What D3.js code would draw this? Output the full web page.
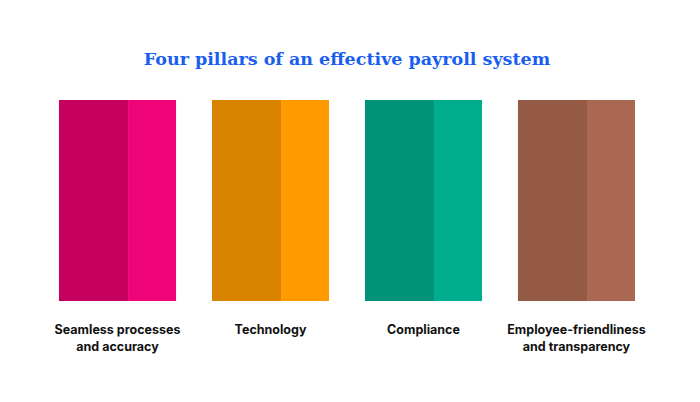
<!DOCTYPE html>
<html><head><meta charset="utf-8">
<script src="https://cdn.jsdelivr.net/npm/d3@7"></script>
<style>body{margin:0;background:#fff}</style></head>
<body><svg id="c" width="700" height="402"></svg>
<script>
const categories = [["Seamless processes","and accuracy"],["Technology"],["Compliance"],["Employee-friendliness","and transparency"]];
const values = [1,1,1,1];
const darkColors = ["#c6005f","#d98400","#00937a","#955a46"];
const lightColors = ["#ee0477","#ff9a00","#00ad8e","#aa6852"];
const title = "Four pillars of an effective payroll system";

const svg = d3.select("#c");
const x = d3.scaleBand().domain(d3.range(categories.length)).range([59,635]).paddingInner(0.235).paddingOuter(0);
const y = d3.scaleLinear().domain([0,1]).range([301,100]);
const bw = x.bandwidth();

svg.append("text").attr("x",347).attr("y",65).attr("text-anchor","middle")
  .attr("font-family","DejaVu Serif, serif").attr("font-weight","bold").attr("font-size",17.5)
  .attr("fill","#1a5ef0").text(title);

const g = svg.selectAll("g.p").data(values).join("g").attr("class","p");
g.append("rect").attr("x",(d,i)=>x(i)).attr("y",d=>y(d)).attr("width",bw*0.59).attr("height",d=>y(0)-y(d)).attr("fill",(d,i)=>darkColors[i]);
g.append("rect").attr("x",(d,i)=>x(i)+bw*0.59).attr("y",d=>y(d)).attr("width",bw*0.41).attr("height",d=>y(0)-y(d)).attr("fill",(d,i)=>lightColors[i]);

categories.forEach((lines,i)=>{
  const t = svg.append("text").attr("x",x(i)+bw/2).attr("y",334).attr("text-anchor","middle")
    .attr("font-family","Inter, Roboto, sans-serif").attr("font-weight","bold").attr("font-size",12.5).attr("fill","#111");
  lines.forEach((l,j)=>t.append("tspan").attr("x",x(i)+bw/2).attr("dy",j?17:0).text(l));
});
</script></body></html>
